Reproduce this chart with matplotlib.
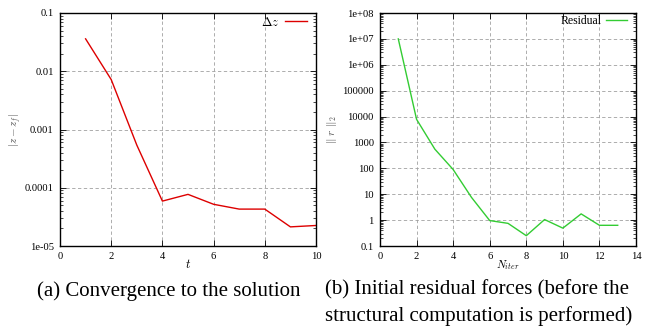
import matplotlib
matplotlib.use("Agg")
import matplotlib.pyplot as plt
from matplotlib.ticker import LogLocator, FixedLocator, FixedFormatter, NullFormatter

plt.rcParams['font.family'] = ['Liberation Serif', 'DejaVu Serif']
plt.rcParams['mathtext.fontset'] = 'cm'

# (a) convergence
t = [1, 2, 3, 4, 5, 6, 7, 8, 9, 10]
dz = [0.036, 0.0072, 0.00054, 5.9e-5, 7.7e-5, 5.2e-5, 4.3e-5, 4.3e-5, 2.13e-5, 2.25e-5]

# (b) residual
n_iter = [1, 2, 3, 4, 5, 6, 7, 8, 9, 10, 11, 12, 13]
residual = [1e7, 7800, 550, 90, 7.6, 0.96, 0.75, 0.25, 1.05, 0.49, 1.74, 0.63, 0.63]

left_yticks = [1e-5, 1e-4, 1e-3, 1e-2, 1e-1]
left_ylabels = ['1e-05', '0.0001', '0.001', '0.01', '0.1']
right_yticks = [1e-1, 1, 10, 100, 1e3, 1e4, 1e5, 1e6, 1e7, 1e8]
right_ylabels = ['0.1', '1', '10', '100', '1000', '10000', '100000',
                 '1e+06', '1e+07', '1e+08']

fig = plt.figure(figsize=(6.5, 3.34), dpi=100)
ax1 = fig.add_axes([60/650, 1-246/334, 256/650, 233/334])
ax2 = fig.add_axes([380/650, 1-246/334, 256/650, 233/334])


def style(ax, yticks, ylabels):
    ax.set_yscale('log')
    ax.yaxis.set_major_locator(FixedLocator(yticks))
    ax.yaxis.set_major_formatter(FixedFormatter(ylabels))
    ax.yaxis.set_minor_locator(LogLocator(base=10, subs=range(2, 10), numticks=20))
    ax.yaxis.set_minor_formatter(NullFormatter())
    ax.tick_params(which='both', direction='in', top=True, right=True,
                   labelsize=7.6, pad=4.5)
    ax.tick_params(which='major', length=4, width=0.6)
    ax.tick_params(which='minor', length=2, width=0.5)
    ax.grid(True, which='major', color='#a0a0a0', linestyle=(0, (4, 3)), linewidth=0.6)
    for s in ax.spines.values():
        s.set_linewidth(1.0)


ax1.plot(t, dz, color='#dd0000', linewidth=1.0, label=r'$\Delta z$')
style(ax1, left_yticks, left_ylabels)
ax1.set_xlim(0, 10)
ax1.set_ylim(1e-5, 0.1)
ax1.set_xticks([0, 2, 4, 6, 8, 10])
ax1.set_xlabel(r'$t$', fontsize=9, labelpad=-2)
ax1.set_ylabel(r'$|z - z_f|$', fontsize=8, color='#555555')
ax1.yaxis.set_label_coords(-0.14, 0.5)
ax1.legend(loc='upper right', frameon=False, markerfirst=False, fontsize=9,
           handlelength=1.8, borderaxespad=0.0, handletextpad=0.4,
           bbox_to_anchor=(0.985, 1.01))

ax2.plot(n_iter, residual, color='#33cc33', linewidth=1.0, label='Residual')
style(ax2, right_yticks, right_ylabels)
ax2.set_xlim(0, 14)
ax2.set_ylim(0.1, 1e8)
ax2.set_xticks([0, 2, 4, 6, 8, 10, 12, 14])
ax2.set_xlabel(r'$N_{iter}$', fontsize=8, labelpad=-2)
ax2.set_ylabel(r'$\|\ r\ \|_2$', fontsize=8, color='#555555')
ax2.yaxis.set_label_coords(-0.16, 0.5)
ax2.legend(loc='upper right', frameon=False, markerfirst=False, fontsize=8.5,
           handlelength=1.8, borderaxespad=0.0, handletextpad=0.4,
           bbox_to_anchor=(0.985, 1.01))

fig.text(169/650, 1-291/334, '(a) Convergence to the solution', ha='center',
         va='center', fontsize=15)
fig.text(325/650, 1-290/334, '(b) Initial residual forces (before the', ha='left',
         va='center', fontsize=15)
fig.text(325/650, 1-316/334, 'structural computation is performed)', ha='left',
         va='center', fontsize=15)

fig.savefig('out.png', dpi=100)
